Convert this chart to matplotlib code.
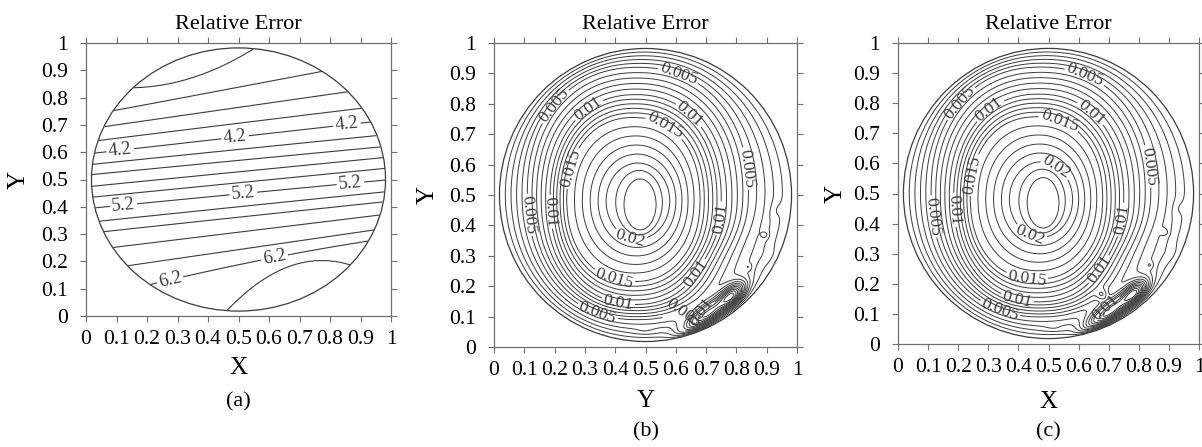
import numpy as np
import matplotlib.pyplot as plt
from matplotlib.patches import Circle

plt.rcParams['font.family'] = ['Liberation Serif', 'DejaVu Serif']

# ---------------- data ----------------
# panel (a): every contour level and its height at x = 0, 0.5 and 1
levels_a = [3.4, 3.6, 3.8, 4.0, 4.2, 4.4, 4.6, 4.8, 5.0, 5.2, 5.4, 5.6, 5.8, 6.0, 6.2, 6.4]
y_at_x0 = [0.852, 0.733, 0.684, 0.637, 0.593, 0.553, 0.516, 0.473, 0.433, 0.393,
           0.342, 0.302, 0.239, 0.162, 0.057, -0.932]
y_at_x05 = [0.946, 0.838, 0.764, 0.706, 0.656, 0.610, 0.570, 0.528, 0.488, 0.447,
            0.400, 0.362, 0.307, 0.243, 0.188, 0.062]
y_at_x1 = [1.465, 0.943, 0.844, 0.774, 0.719, 0.666, 0.623, 0.583, 0.543, 0.500,
           0.457, 0.421, 0.375, 0.324, 0.288, 0.106]
labels_a = [4.2, 5.2, 6.2]

# panels (b) and (c): the main closed contours as (super)ellipses
peak_val = 0.0228
ring_vals = [0.022, 0.02, 0.015, 0.01, 0.005]
ring_cx = [0.482, 0.475, 0.46, 0.4675, 0.475]
ring_cy = [0.469, 0.48, 0.485, 0.485, 0.505]
ring_a = [0.053, 0.105, 0.22, 0.2825, 0.365]
ring_b = [0.084, 0.125, 0.27, 0.345, 0.415]
ring_p = [2.0, 2.0, 2.2, 2.2, 2.2]
levels_bc = [round(0.001 * k, 3) for k in range(1, 23)]
labels_bc = [0.005, 0.01, 0.015, 0.02]
# local features near the lower right rim: x, y, amplitude, width along, width across, angle
bumps_b = [(0.70, 0.10, 0.011, 0.11, 0.032, 38),
           (0.79, 0.17, 0.008, 0.05, 0.03, 45),
           (0.74, 0.28, -0.0012, 0.14, 0.06, 45),
           (0.894, 0.368, 0.0012, 0.012, 0.012, 0),
           (0.84, 0.263, 0.0012, 0.012, 0.012, 0),
           (0.93, 0.45, -0.0006, 0.03, 0.02, 70),
           (0.91, 0.30, 0.0006, 0.03, 0.02, 60),
           (0.50, 0.05, 0.0006, 0.04, 0.012, 0)]
bumps_c = [(0.70, 0.10, 0.0115, 0.11, 0.032, 38),
           (0.79, 0.17, 0.008, 0.05, 0.03, 45),
           (0.74, 0.28, -0.0012, 0.14, 0.06, 45),
           (0.678, 0.163, 0.0022, 0.018, 0.018, 0),
           (0.887, 0.372, 0.0012, 0.012, 0.012, 0),
           (0.837, 0.262, 0.0012, 0.012, 0.012, 0),
           (0.93, 0.45, -0.0006, 0.03, 0.02, 70),
           (0.91, 0.30, 0.0006, 0.03, 0.02, 60),
           (0.52, 0.05, 0.0007, 0.04, 0.012, 0)]

ticks = [0, 0.1, 0.2, 0.3, 0.4, 0.5, 0.6, 0.7, 0.8, 0.9, 1]
tick_labels = ['0', '0.1', '0.2', '0.3', '0.4', '0.5', '0.6', '0.7', '0.8', '0.9', '1']

# ---------------- fields ----------------
R = 0.482
n = 401
xg = np.linspace(0, 1, n)
X, Y = np.meshgrid(xg, xg)
rc = np.hypot(X - 0.5, Y - 0.5) / R
outside = rc > 1.0

# (a) per column: level heights on a quadratic through x = 0, 0.5, 1
lev = np.array(levels_a)
ya, ym, yb = np.array(y_at_x0), np.array(y_at_x05), np.array(y_at_x1)
Za = np.zeros_like(X)
for j, x in enumerate(xg):
    yl = ya * 2 * (x - 0.5) * (x - 1) - ym * 4 * x * (x - 1) + yb * 2 * x * (x - 0.5)
    yl = np.minimum.accumulate(yl)
    yp = np.concatenate([[-5.0], yl[::-1], [5.0]])
    fp = np.concatenate([[lev[-1] + 5.0], lev[::-1], [lev[0] - 5.0]])
    Za[:, j] = np.interp(xg, yp, fp)
Za[outside] = np.nan


def error_field(bumps):
    # signed distance (roughly in axis units) to every ring, the rim last
    dist = []
    for cx, cy, a, b, p in zip(ring_cx, ring_cy, ring_a, ring_b, ring_p):
        s = np.abs((X - cx) / a) ** p + np.abs((Y - cy) / b) ** p
        dist.append((s ** (1 / p) - 1) * np.sqrt(a * b))
    dist.append((rc - 1) * R)
    vals = ring_vals + [0.0]
    s0 = dist[0] / np.sqrt(ring_a[0] * ring_b[0]) + 1
    z = peak_val - (peak_val - vals[0]) * s0 ** 2
    for i in range(len(vals) - 1):
        d0, d1 = dist[i], dist[i + 1]
        inband = (d0 >= 0) & (d1 < 0)
        t = np.where(inband, d0 / np.where(inband, d0 - d1, 1), 0)
        z = np.where(inband, vals[i] + (vals[i + 1] - vals[i]) * t, z)
    edge = np.clip(1 - rc ** 30, 0, None)
    for bx, by, amp, sa, sc, ang in bumps:
        t = np.radians(ang)
        u = (X - bx) * np.cos(t) + (Y - by) * np.sin(t)
        v = -(X - bx) * np.sin(t) + (Y - by) * np.cos(t)
        z = z + amp * edge * np.exp(-(u / sa) ** 2 - (v / sc) ** 2)
    z[outside] = np.nan
    return z


Zb = error_field(bumps_b)
Zc = error_field(bumps_c)

# ---------------- figure ----------------
fig = plt.figure(figsize=(12.02, 4.47), dpi=100)
W, H = 1202, 447


def make_axes(left, right, top, bottom):
    return fig.add_axes([left / W, 1 - bottom / H, (right - left) / W, (bottom - top) / H])


ax_a = make_axes(86, 391, 43, 316)
ax_b = make_axes(494, 797, 43, 347)
ax_c = make_axes(898, 1199, 43, 344)

line_col = '#3c3c3c'
frame_col = '#707070'


def style(ax, xlabel, panel, xlab_off, ylab_off, panel_off):
    ax.set_xlim(0, 1)
    ax.set_ylim(0, 1)
    ax.set_xticks(ticks)
    ax.set_xticklabels(tick_labels)
    ax.set_yticks(ticks)
    ax.set_yticklabels(tick_labels)
    ax.tick_params(direction='out', length=4, width=0.8, color=frame_col,
                   labelsize=15.5, top=True, right=True)
    ax.tick_params(axis='x', pad=6)
    ax.tick_params(axis='y', pad=9)
    for s in ax.spines.values():
        s.set_color(frame_col)
        s.set_linewidth(0.9)
    ax.add_patch(Circle((0.5, 0.5), R, fill=False, ec=line_col, lw=0.9))
    ax.set_title('Relative Error', fontsize=16, pad=10)
    ax.set_xlabel(xlabel, fontsize=18)
    ax.xaxis.label.set_va('center')
    ax.xaxis.set_label_coords(0.5, xlab_off)
    ax.set_ylabel('Y', fontsize=18)
    ax.yaxis.label.set_va('center')
    ax.yaxis.set_label_coords(ylab_off, 0.5)
    ax.text(0.5, panel_off, panel, transform=ax.transAxes, ha='center', va='center',
            fontsize=16)


fmt = lambda v: f'{v:g}'


def draw_contours(ax, Z, levels, labels, positions, lw, fs):
    # plain lines, then the labelled levels as their own set so clabel only cuts those
    plain = [v for v in levels if not np.any(np.isclose(v, labels))]
    ax.contour(X, Y, Z, levels=plain, colors=line_col, linewidths=lw)
    cs = ax.contour(X, Y, Z, levels=labels, colors=line_col, linewidths=lw)
    ax.clabel(cs, fmt=fmt, fontsize=fs, inline=True, inline_spacing=2, manual=positions)


draw_contours(ax_a, Za, levels_a, labels_a,
              [(0.112, 0.607), (0.489, 0.656), (0.856, 0.698),
               (0.123, 0.409), (0.516, 0.448), (0.866, 0.495),
               (0.276, 0.128), (0.617, 0.219)], 0.8, 13.5)

draw_contours(ax_b, Zb, levels_bc, labels_bc,
              [(0.19, 0.80), (0.30, 0.797), (0.614, 0.912), (0.664, 0.786),
               (0.57, 0.736), (0.256, 0.588), (0.112, 0.434), (0.19, 0.445),
               (0.835, 0.588), (0.746, 0.423), (0.449, 0.357), (0.40, 0.236),
               (0.41, 0.148), (0.344, 0.121), (0.69, 0.225), (0.636, 0.132),
               (0.68, 0.12)], 0.7, 12.5)

draw_contours(ax_c, Zc, levels_bc, labels_bc,
              [(0.196, 0.81), (0.29, 0.795), (0.627, 0.906), (0.66, 0.79),
               (0.54, 0.75), (0.528, 0.59), (0.251, 0.562), (0.118, 0.424),
               (0.19, 0.446), (0.832, 0.59), (0.749, 0.412), (0.44, 0.363),
               (0.428, 0.218), (0.395, 0.146), (0.34, 0.119), (0.688, 0.235),
               (0.688, 0.124)], 0.7, 12.5)

style(ax_a, 'X', '(a)', -52 / 273, -67 / 305, -86 / 273)
style(ax_b, 'Y', '(b)', -54 / 304, -66 / 303, -85 / 304)
style(ax_c, 'X', '(c)', -58 / 301, -62 / 301, -88 / 301)

fig.savefig('out.png', dpi=100)
